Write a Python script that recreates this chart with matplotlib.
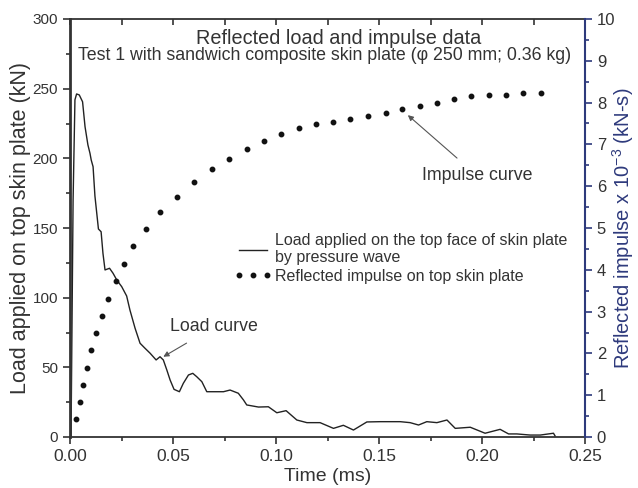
import numpy as np
import matplotlib
matplotlib.use("Agg")
import matplotlib.pyplot as plt
from matplotlib.ticker import MultipleLocator

plt.rcParams['font.family'] = ['Liberation Sans', 'DejaVu Sans']

# load curve (time in ms, load in kN)
load_t = [0.0, 0.0005, 0.0015, 0.0024, 0.0032, 0.0045, 0.0061, 0.0073, 0.0087, 0.0097,
          0.0103, 0.0112, 0.0121, 0.0138, 0.0151, 0.0160, 0.0170, 0.0192, 0.0209, 0.0227,
          0.0251, 0.0275, 0.0291, 0.0316, 0.0340, 0.0364, 0.0389, 0.0418, 0.0437, 0.0453,
          0.0470, 0.0486, 0.0505, 0.0531, 0.0550, 0.0575, 0.0596, 0.0615, 0.0640, 0.0664,
          0.0712, 0.0745, 0.0777, 0.0817, 0.0842, 0.0858, 0.0915, 0.0963, 0.1004, 0.1049,
          0.1101, 0.1150, 0.1214, 0.1279, 0.1327, 0.1376, 0.1441, 0.1506, 0.1603, 0.1651,
          0.1692, 0.1732, 0.1781, 0.1830, 0.1870, 0.1943, 0.2015, 0.2088, 0.2129, 0.2169,
          0.2234, 0.2283, 0.2347, 0.2355]
load_kn = [0.0, 0.0, 170.0, 242.0, 246.2, 245.5, 240.6, 222.7, 209.6, 203.6,
           198.8, 194.0, 173.0, 149.3, 147.3, 131.8, 119.9, 121.1, 117.5, 112.7,
           107.9, 101.2, 91.1, 78.0, 67.3, 63.7, 60.1, 55.3, 57.6, 55.3,
           48.1, 40.9, 34.2, 32.5, 38.5, 44.5, 45.7, 43.3, 39.7, 32.5,
           32.5, 32.5, 33.7, 31.4, 26.6, 23.0, 21.5, 21.7, 17.4, 18.9,
           12.2, 10.3, 10.3, 6.2, 8.4, 5.0, 10.8, 11.0, 11.0, 10.3,
           8.6, 11.0, 10.3, 12.2, 6.2, 7.0, 2.7, 5.5, 2.2, 2.2,
           1.4, 1.4, 2.7, 0.7]

# reflected impulse (x 10^-3 kN-s)
imp_t = [0.0028, 0.0049, 0.0065, 0.0084, 0.0104, 0.0126, 0.0154, 0.0186, 0.0223, 0.0262,
         0.0307, 0.0368, 0.0437, 0.0521, 0.0604, 0.0690, 0.0774, 0.0858, 0.0942, 0.1025,
         0.1110, 0.1195, 0.1278, 0.1360, 0.1445, 0.1532, 0.1614, 0.1698, 0.1782, 0.1866,
         0.1949, 0.2034, 0.2118, 0.2199, 0.2285]
imp_val = [0.42, 0.83, 1.25, 1.66, 2.07, 2.49, 2.90, 3.31, 3.73, 4.14,
           4.56, 4.98, 5.39, 5.74, 6.09, 6.40, 6.66, 6.90, 7.09, 7.25,
           7.39, 7.48, 7.53, 7.60, 7.67, 7.74, 7.84, 7.92, 8.00, 8.09,
           8.15, 8.18, 8.19, 8.22, 8.23]

navy = '#2e3a7c'
grey = '#333333'

fig = plt.figure(figsize=(6.38, 4.88), dpi=100)
ax = fig.add_axes([70/638, 51/488, 515/638, 418/488])
ax2 = ax.twinx()

l1, = ax.plot(load_t, load_kn, color='#222222', lw=1.0,
              label='Load applied on the top face of skin plate\nby pressure wave')
l2, = ax2.plot(imp_t, imp_val, ls='none', marker='o', ms=3.2, color='#111111',
               label='Reflected impulse on top skin plate')

ax.set_xlim(0, 0.25)
ax.set_ylim(0, 300)
ax2.set_ylim(0, 10)
ax.xaxis.set_major_locator(MultipleLocator(0.05))
ax.xaxis.set_minor_locator(MultipleLocator(0.025))
ax.yaxis.set_major_locator(MultipleLocator(50))
ax.yaxis.set_minor_locator(MultipleLocator(25))
ax2.yaxis.set_major_locator(MultipleLocator(1))
ax2.yaxis.set_minor_locator(MultipleLocator(0.5))
ax.xaxis.set_major_formatter(lambda v, p: f'{v:.2f}')

ax.tick_params(axis='x', which='both', direction='out', bottom=True, top=False,
               labelsize=12.5, colors=grey, length=5, width=1.2)
ax.tick_params(axis='x', which='minor', length=3)
ax.tick_params(axis='y', which='both', direction='out', labelsize=11, colors=grey,
               length=5, width=1.2)
ax.tick_params(axis='y', which='minor', length=3)
ax2.tick_params(axis='y', which='both', direction='out', labelsize=12, colors=navy,
                labelcolor=grey, length=5, width=1.2)
ax2.tick_params(axis='y', which='minor', length=3)
# top ticks point into the plot
secx = ax.secondary_xaxis('top')
secx.xaxis.set_major_locator(MultipleLocator(0.05))
secx.xaxis.set_minor_locator(MultipleLocator(0.025))
secx.tick_params(which='both', direction='in', length=4, width=1.2, labeltop=False, colors=grey)
secx.spines['top'].set_visible(False)

for s in ['left', 'bottom', 'top']:
    ax.spines[s].set_color(grey)
    ax.spines[s].set_linewidth(1.3)
ax.spines['left'].set_linewidth(2.0)
for s in ['left', 'bottom', 'top']:
    ax2.spines[s].set_visible(False)
ax2.spines['right'].set_color(navy)
ax2.spines['right'].set_linewidth(1.5)
ax.spines['right'].set_visible(False)

ax.set_xlabel('Time (ms)', fontsize=14, color=grey, labelpad=3)
ax.set_ylabel('Load applied on top skin plate (kN)', fontsize=15.5, color=grey, labelpad=1)
ax2.set_ylabel(r'Reflected impulse x 10$^{\mathregular{-3}}$ (kN-s)', fontsize=14.5,
               color=navy)
ax2.yaxis.set_label_coords(1.048, 0.5)

ax.text(0.521, 0.953, 'Reflected load and impulse data', transform=ax.transAxes,
        ha='center', va='center', fontsize=14.3, color=grey)
ax.text(0.494, 0.912, 'Test 1 with sandwich composite skin plate (φ 250 mm; 0.36 kg)',
        transform=ax.transAxes, ha='center', va='center', fontsize=12.8, color=grey)

ax.legend(handles=[l1, l2], loc='upper left', bbox_to_anchor=(0.318, 0.488),
          frameon=False, fontsize=11.5, handlelength=2.4, handletextpad=0.2,
          labelspacing=0.2, borderpad=0, borderaxespad=0, numpoints=3,
          labelcolor=grey)

ax2.annotate('Impulse curve', xy=(0.164, 7.70), xytext=(0.1977, 6.25),
             ha='center', va='center', fontsize=12.8, color=grey,
             arrowprops=dict(arrowstyle='-|>', color='#555555', lw=0.8,
                             mutation_scale=8, shrinkA=7, shrinkB=0))
ax.annotate('Load curve', xy=(0.0453, 57.6), xytext=(0.070, 79),
            ha='center', va='center', fontsize=12.8, color=grey,
            arrowprops=dict(arrowstyle='-|>', color='#555555', lw=0.8,
                            mutation_scale=8, shrinkA=7, shrinkB=0))

fig.savefig('out.png', dpi=100)
